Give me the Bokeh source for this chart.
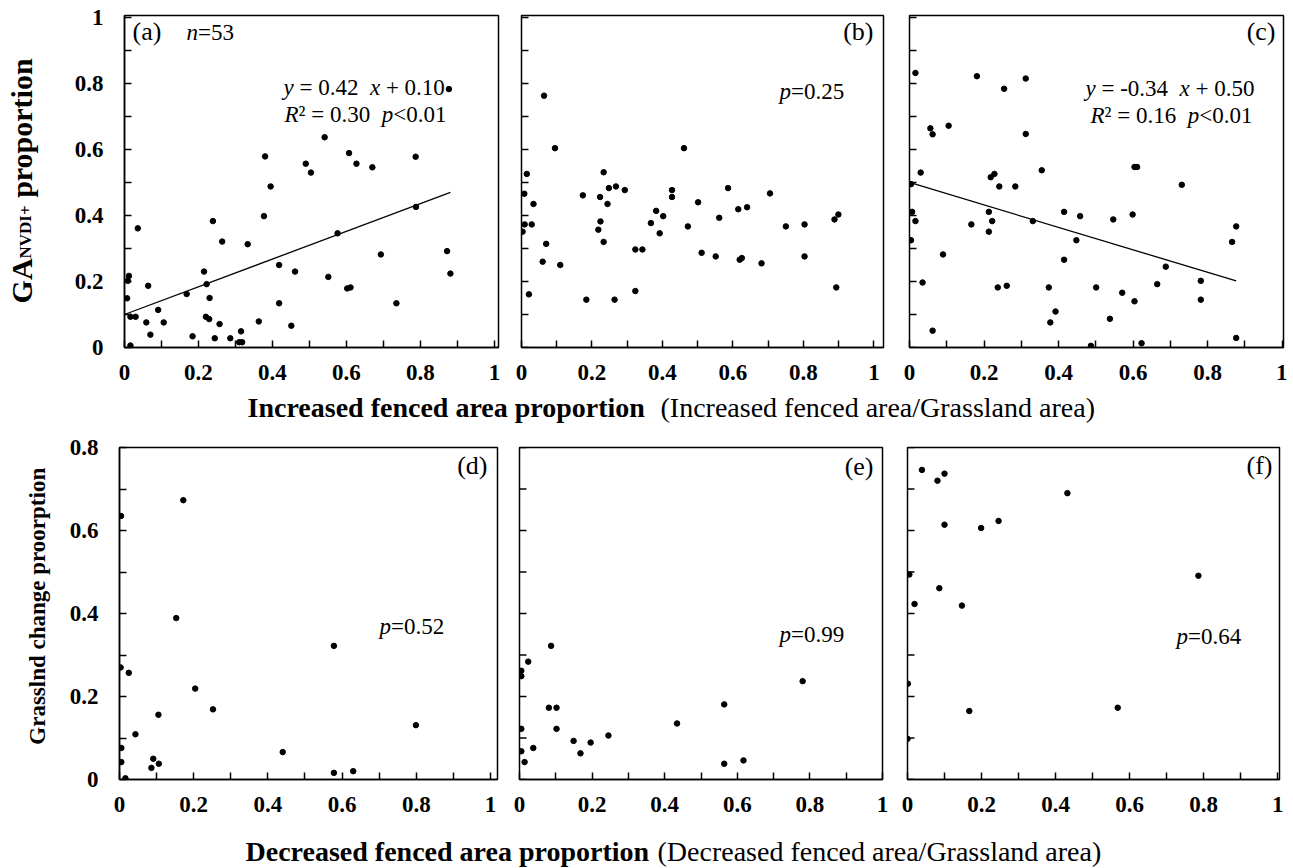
from math import pi
from bokeh.plotting import figure
from bokeh.models import FixedTicker, Label, Range1d
from bokeh.layouts import column, row
from bokeh.embed import file_html
from bokeh.resources import INLINE

# ---------------- data ----------------
# (a) increased fenced area proportion vs GA_NVDI+ proportion
xa = [0.016, 0.007, 0.012, 0.009, 0.016, 0.030, 0.036, 0.059, 0.064, 0.070, 0.091, 0.106, 0.168, 0.184,
      0.215, 0.220, 0.222, 0.229, 0.230, 0.239, 0.244, 0.257, 0.264, 0.286, 0.310, 0.318, 0.315, 0.333,
      0.363, 0.377, 0.380, 0.395, 0.418, 0.418, 0.451, 0.461, 0.490, 0.504, 0.541, 0.551, 0.576, 0.602,
      0.611, 0.607, 0.627, 0.670, 0.693, 0.735, 0.787, 0.788, 0.872, 0.881, 0.877]
ya = [0.006, 0.149, 0.217, 0.202, 0.093, 0.093, 0.361, 0.076, 0.187, 0.039, 0.114, 0.076, 0.162, 0.034,
      0.230, 0.093, 0.192, 0.086, 0.150, 0.383, 0.028, 0.071, 0.321, 0.028, 0.016, 0.016, 0.049, 0.313,
      0.079, 0.398, 0.579, 0.488, 0.250, 0.134, 0.066, 0.230, 0.557, 0.530, 0.637, 0.214, 0.346, 0.179,
      0.182, 0.589, 0.557, 0.546, 0.282, 0.134, 0.578, 0.426, 0.292, 0.224, 0.783]
# (b)
xb = [0.003, 0.008, 0.015, 0.009, 0.021, 0.029, 0.034, 0.060, 0.064, 0.070, 0.095, 0.110, 0.174, 0.184,
      0.218, 0.223, 0.224, 0.233, 0.233, 0.244, 0.248, 0.264, 0.268, 0.293, 0.323, 0.323, 0.343, 0.367,
      0.382, 0.392, 0.402, 0.427, 0.427, 0.461, 0.472, 0.501, 0.511, 0.551, 0.561, 0.586, 0.615, 0.619,
      0.625, 0.640, 0.681, 0.705, 0.750, 0.803, 0.803, 0.888, 0.899, 0.893]
yb = [0.351, 0.466, 0.526, 0.373, 0.161, 0.373, 0.435, 0.260, 0.763, 0.314, 0.604, 0.250, 0.461, 0.145,
      0.357, 0.456, 0.382, 0.531, 0.320, 0.435, 0.483, 0.145, 0.488, 0.477, 0.297, 0.171, 0.297, 0.377,
      0.414, 0.346, 0.398, 0.477, 0.456, 0.604, 0.367, 0.440, 0.287, 0.276, 0.393, 0.483, 0.419, 0.266,
      0.271, 0.425, 0.255, 0.467, 0.367, 0.373, 0.276, 0.388, 0.403, 0.182]
# (c)
xc = [0.016, 0.004, 0.007, 0.016, 0.004, 0.030, 0.035, 0.056, 0.062, 0.062, 0.090, 0.105, 0.166, 0.181,
      0.213, 0.213, 0.218, 0.222, 0.228, 0.237, 0.241, 0.254, 0.261, 0.284, 0.312, 0.312, 0.331, 0.355,
      0.374, 0.378, 0.392, 0.415, 0.415, 0.448, 0.458, 0.487, 0.501, 0.538, 0.547, 0.571, 0.599, 0.604,
      0.604, 0.611, 0.623, 0.665, 0.688, 0.731, 0.782, 0.782, 0.866, 0.877, 0.877]
yc = [0.832, 0.495, 0.411, 0.383, 0.325, 0.530, 0.197, 0.664, 0.646, 0.051, 0.282, 0.672, 0.373, 0.822,
      0.411, 0.351, 0.516, 0.383, 0.526, 0.182, 0.488, 0.784, 0.187, 0.488, 0.815, 0.647, 0.383, 0.537,
      0.182, 0.076, 0.109, 0.411, 0.266, 0.325, 0.398, 0.005, 0.182, 0.087, 0.388, 0.166, 0.403, 0.140,
      0.547, 0.547, 0.013, 0.192, 0.245, 0.493, 0.202, 0.145, 0.320, 0.367, 0.029]
# (d) decreased fenced area proportion vs grassland change proportion
xd = [0.004, 0.003, 0.025, 0.005, 0.005, 0.016, 0.043, 0.086, 0.091, 0.106, 0.105, 0.153, 0.172, 0.204,
      0.252, 0.440, 0.578, 0.578, 0.630, 0.799]
yd = [0.635, 0.270, 0.257, 0.076, 0.042, 0.003, 0.109, 0.028, 0.050, 0.038, 0.156, 0.389, 0.673, 0.219,
      0.169, 0.066, 0.322, 0.016, 0.020, 0.131]
# (e)
xe = [0.005, 0.005, 0.024, 0.005, 0.005, 0.014, 0.038, 0.087, 0.081, 0.102, 0.102, 0.149, 0.168, 0.196,
      0.245, 0.434, 0.564, 0.564, 0.617, 0.780]
ye = [0.262, 0.249, 0.284, 0.122, 0.068, 0.042, 0.076, 0.322, 0.173, 0.173, 0.122, 0.093, 0.063, 0.089,
      0.106, 0.135, 0.181, 0.038, 0.046, 0.237]
# (f)
xf = [0.039, 0.081, 0.100, 0.432, 0.100, 0.199, 0.246, 0.005, 0.086, 0.019, 0.147, 0.786, 0.001, 0.167,
      0.568, 0.000]
yf = [0.746, 0.720, 0.737, 0.690, 0.614, 0.606, 0.623, 0.494, 0.461, 0.423, 0.419, 0.491, 0.231, 0.165,
      0.173, 0.098]

# regression fits shown in panels (a) and (c)
fit_a = (0.42, 0.10)
fit_c = (-0.34, 0.50)

# ticks
x_ticks = [0, 0.2, 0.4, 0.6, 0.8, 1]
x_tick_labels = ["0", "0.2", "0.4", "0.6", "0.8", "1"]
x_minor = [0.1, 0.3, 0.5, 0.7, 0.9]
y_ticks_top = [0, 0.2, 0.4, 0.6, 0.8, 1]
y_tick_labels_top = ["0", "0.2", "0.4", "0.6", "0.8", "1"]
y_minor_top = [0.1, 0.3, 0.5, 0.7, 0.9]
y_ticks_bot = [0, 0.2, 0.4, 0.6, 0.8]
y_tick_labels_bot = ["0", "0.2", "0.4", "0.6", "0.8"]
y_minor_bot = [0.1, 0.3, 0.5, 0.7]

# texts
panel_tags = ["(a)", "(b)", "(c)", "(d)", "(e)", "(f)"]
xlabel_top_bold = "Increased fenced area proportion"
xlabel_top_reg = "(Increased fenced area/Grassland area)"
xlabel_bot_bold = "Decreased fenced area proportion"
xlabel_bot_reg = "(Decreased fenced area/Grassland area)"
ylabel_top = [("GA", 30), ("NVDI+", 17), (" proportion", 30)]
ylabel_bot = "Grasslnd change proorption"

# ---------------- helpers ----------------
FONT = "Liberation Serif"
MID = 0.34  # label anchor sits at the text's vertical middle: shift by this fraction of the size
REG = {' ': 250, '=': 564, '+': 564, '<': 564, '-': 333, '.': 250, '\u00b2': 300, '(': 333, ')': 333}
ITA = {'y': 444, 'x': 444, 'p': 500, 'n': 500, 'R': 611}
BOLD = {'G': 778, 'A': 722, 'N': 722, 'V': 722, 'D': 722, 'I': 389, '+': 570, ' ': 250, 'p': 556,
        'r': 444, 'o': 500, 't': 333, 'i': 278, 'n': 556, 'a': 500, 's': 389, 'l': 278, 'd': 556,
        'c': 444, 'h': 556, 'g': 500, 'e': 444}
TABLES = {"normal": REG, "italic": ITA, "bold": BOLD}


def text_width(text, style, size):
    table = TABLES[style]
    return sum(table.get(ch, 500) for ch in text) * size / 1000.0


def rich(p, x, y, dx, dy, segs, angle=0.0):
    """Run of differently styled text pieces sharing one baseline; dx/dy in pixels (dy = baseline
    distance down for horizontal text, start distance up for rotated text)."""
    big = max(s for _, _, s in segs)
    cum = 0.0
    for text, style, size in segs:
        lead = len(text) - len(text.lstrip(' '))
        shift = text_width(text[:lead], style, size)
        shown = text.strip(' ')
        if shown:
            if angle == 0:
                xo, yo = dx + cum + shift, -(dy - MID * size)
            else:
                xo, yo = dx + MID * (big - size), dy + cum + shift
            p.add_layout(Label(x=x, y=y, x_offset=xo, y_offset=yo, text=shown, angle=angle,
                               text_font=FONT, text_font_style=style, text_font_size=f"{size}px",
                               text_align="left", text_baseline="alphabetic", text_color="black"))
        cum += text_width(text, style, size)


def tag(p, x, y, dx, dy, text, size=26, align="right"):
    p.add_layout(Label(x=x, y=y, x_offset=dx, y_offset=-(dy - MID * size), text=text, text_font=FONT,
                       text_font_size=f"{size}px", text_align=align, text_baseline="alphabetic",
                       text_color="black"))


def style_axis(ax):
    ax.axis_line_width = 1.5
    ax.axis_line_color = "black"
    ax.major_tick_in = 7
    ax.major_tick_out = 0
    ax.minor_tick_in = 7
    ax.minor_tick_out = 0
    ax.major_tick_line_width = 1.5
    ax.minor_tick_line_width = 1.5
    ax.major_tick_line_color = "black"
    ax.minor_tick_line_color = "black"
    ax.major_label_text_font = FONT
    ax.major_label_text_font_style = "bold"
    ax.major_label_text_font_size = "23px"
    ax.major_label_text_color = "black"


def panel(fw, bl, br, bt, bb, xend, yend, yt, ytl, ym, ylabels):
    p = figure(frame_width=fw, frame_height=332, min_border_left=bl, min_border_right=br,
               min_border_top=bt, min_border_bottom=bb, x_range=Range1d(0, xend),
               y_range=Range1d(0, yend), toolbar_location=None, output_backend="svg",
               y_axis_location="left" if ylabels else None)
    p.grid.visible = False
    p.outline_line_color = "black"
    p.outline_line_width = 1.5
    p.background_fill_color = "white"
    p.border_fill_color = "white"
    p.xaxis.ticker = FixedTicker(ticks=x_ticks, minor_ticks=x_minor)
    p.xaxis.major_label_overrides = dict(zip(x_ticks, x_tick_labels))
    style_axis(p.xaxis[0])
    p.xaxis.major_label_standoff = 17
    if ylabels:
        p.yaxis.ticker = FixedTicker(ticks=yt, minor_ticks=ym)
        p.yaxis.major_label_overrides = dict(zip(yt, ytl))
        style_axis(p.yaxis[0])
        p.yaxis.major_label_standoff = 21
    else:
        # unlabeled inner ticks on the left edge, at the same tick values
        ty = list(yt) + list(ym)
        p.ray(x=[0] * len(ty), y=ty, length=7, length_units="screen", angle=0,
              line_color="black", line_width=1.5)
    return p


def dots(p, x, y):
    p.scatter(x, y, size=5.5, marker="circle", fill_color="black", line_color="black")


def fit_line(p, x, fit):
    xs = [0, max(x)]
    p.line(xs, [fit[0] * v + fit[1] for v in xs], line_color="black", line_width=1.3)


def blank(w, h):
    s = figure(width=w, height=h, x_range=Range1d(0, w), y_range=Range1d(0, h),
               x_axis_type=None, y_axis_type=None, toolbar_location=None, output_backend="svg",
               min_border=0)
    s.grid.visible = False
    s.outline_line_color = None
    s.background_fill_color = "white"
    s.border_fill_color = "white"
    return s


TOP_END = 1.006
BOT_END = 0.8
ROW1_H = 392
ROW2_H = 391
LEFT_W = 60

fa = panel(374, 64, 10, 15, 45, 1.011, TOP_END, y_ticks_top, y_tick_labels_top, y_minor_top, True)
fb = panel(362, 13, 13, 15, 45, 1.027, TOP_END, y_ticks_top, y_tick_labels_top, y_minor_top, False)
fc = panel(374, 13, 4, 15, 45, 1.004, TOP_END, y_ticks_top, y_tick_labels_top, y_minor_top, False)
fd = panel(378, 59, 11, 19, 40, 1.019, BOT_END, y_ticks_bot, y_tick_labels_bot, y_minor_bot, True)
fe = panel(363, 11, 13, 19, 40, 1.0, BOT_END, y_ticks_bot, y_tick_labels_bot, y_minor_bot, False)
ff = panel(372, 12, 8, 19, 40, 1.005, BOT_END, y_ticks_bot, y_tick_labels_bot, y_minor_bot, False)

for p, x, y in ((fa, xa, ya), (fb, xb, yb), (fc, xc, yc), (fd, xd, yd), (fe, xe, ye), (ff, xf, yf)):
    dots(p, x, y)
fit_line(fa, xa, fit_a)
fit_line(fc, xc, fit_c)

S = 23
# (a)
tag(fa, 0, TOP_END, 8, 25, panel_tags[0], align="left")
rich(fa, 0, TOP_END, 62, 25, [("n", "italic", S), ("=53", "normal", S)])
rich(fa, 0, TOP_END, 159, 80, [("y", "italic", S), (f" = {fit_a[0]:.2f}  ", "normal", S),
                                ("x", "italic", S), (f" + {fit_a[1]:.2f}", "normal", S)])
rich(fa, 0, TOP_END, 160, 107, [("R", "italic", S), ("\u00b2 = 0.30  ", "normal", S),
                                 ("p", "italic", S), ("<0.01", "normal", S)])
# (b)
tag(fb, 1.027, TOP_END, -10, 25, panel_tags[1])
rich(fb, 0, TOP_END, 258, 84, [("p", "italic", S), ("=0.25", "normal", S)])
# (c)
tag(fc, 1.004, TOP_END, -8, 25, panel_tags[2])
rich(fc, 0, TOP_END, 176, 81, [("y", "italic", S), (f" = {fit_c[0]:.2f}  ", "normal", S),
                                ("x", "italic", S), (f" + {fit_c[1]:.2f}", "normal", S)])
rich(fc, 0, TOP_END, 181, 108, [("R", "italic", S), ("\u00b2 = 0.16  ", "normal", S),
                                 ("p", "italic", S), ("<0.01", "normal", S)])
# (d)-(f)
tag(fd, 1.019, BOT_END, -10, 27, panel_tags[3])
rich(fd, 0, BOT_END, 260, 187, [("p", "italic", S), ("=0.52", "normal", S)])
tag(fe, 1.0, BOT_END, -9, 28, panel_tags[4])
rich(fe, 0, BOT_END, 260, 195, [("p", "italic", S), ("=0.99", "normal", S)])
tag(ff, 1.005, BOT_END, -7, 27, panel_tags[5])
rich(ff, 0, BOT_END, 269, 197, [("p", "italic", S), ("=0.64", "normal", S)])

# y axis titles (rotated) in narrow strips on the left
ly1 = blank(LEFT_W, ROW1_H)
rich(ly1, 21, 52, 0, 0, [(t, "bold", s) for t, s in ylabel_top], angle=pi / 2)
ly2 = blank(LEFT_W, ROW2_H)
rich(ly2, 37, 41, 0, 0, [(ylabel_bot, "bold", 23)], angle=pi / 2)


# x axis titles in full-width strips
def strip(h, bold_text, reg_text, bx, rx, base, size=28):
    s = blank(1287, h)
    yb_ = base + MID * size
    s.add_layout(Label(x=bx, y=yb_, text=bold_text, text_font=FONT, text_font_style="bold",
                       text_font_size=f"{size}px", text_baseline="alphabetic", text_color="black"))
    s.add_layout(Label(x=rx, y=yb_, text=reg_text, text_font=FONT, text_font_size=f"{size}px",
                       text_baseline="alphabetic", text_color="black"))
    return s


lab1 = strip(36, xlabel_top_bold, xlabel_top_reg, 247, 660, 11)
lab2 = strip(49, xlabel_bot_bold, xlabel_bot_reg, 245, 657, 7)

layout = column(row(ly1, fa, fb, fc), lab1, row(ly2, fd, fe, ff), lab2)
open("out.html", "w").write(file_html(layout, INLINE))
